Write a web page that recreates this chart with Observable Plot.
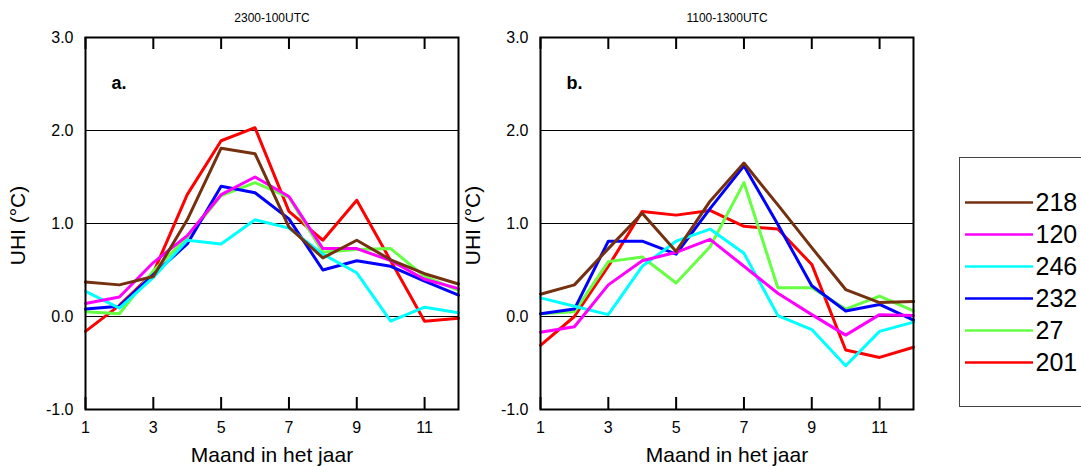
<!DOCTYPE html>
<html><head><meta charset="utf-8">
<script src="https://cdn.jsdelivr.net/npm/d3@7"></script>
<script src="https://cdn.jsdelivr.net/npm/@observablehq/plot@0.6"></script>
<style>
body{margin:0;background:#fff;overflow:hidden;}
#root{position:relative;width:1081px;height:466px;overflow:hidden;background:#fff;font-family:"Liberation Sans",Arial,sans-serif;}
.panel{position:absolute;top:0;}
#legendBox{position:absolute;left:959px;top:157px;width:150px;height:250px;border:1.5px solid #444;box-sizing:border-box;}
</style></head><body><div id="root"><div id="legendBox"></div></div>
<script>
const months = [1,2,3,4,5,6,7,8,9,10,11,12];
const seriesIds = ["218","120","246","232","27","201"];
const seriesColors = ["#74300f","#ff00ff","#00ffff","#0000ff","#66ff44","#ff0000"];
const panelTitles = ["2300-100UTC","1100-1300UTC"];
const panelLetters = ["a.","b."];
const xTickValues = [1,3,5,7,9,11];
const yTickValues = [-1,0,1,2,3];
const gridValues = [0,1,2];
const xLabel = "Maand in het jaar";
const yLabel = "UHI (°C)";

// Panel a (2300-100UTC)
const a218 = [0.37,0.34,0.43,1.04,1.81,1.75,0.96,0.63,0.82,0.61,0.46,0.35];
const a120 = [0.14,0.21,0.58,0.87,1.31,1.50,1.29,0.73,0.73,0.60,0.40,0.30];
const a246 = [0.27,0.09,0.42,0.82,0.78,1.04,0.95,0.67,0.47,-0.05,0.10,0.04];
const a232 = [0.08,0.11,0.45,0.78,1.40,1.33,1.05,0.50,0.60,0.54,0.38,0.23];
const a27  = [0.05,0.03,0.49,0.85,1.30,1.44,1.28,0.69,0.72,0.73,0.43,0.28];
const a201 = [-0.16,0.12,0.47,1.31,1.89,2.03,1.13,0.82,1.25,0.60,-0.05,-0.02];

// Panel b (1100-1300UTC)
const b218 = [0.24,0.34,0.73,1.11,0.70,1.24,1.65,1.20,0.74,0.29,0.15,0.16];
const b120 = [-0.17,-0.11,0.34,0.60,0.69,0.83,0.54,0.25,0.02,-0.20,0.02,0.01];
const b246 = [0.20,0.11,0.02,0.54,0.81,0.94,0.68,0.01,-0.14,-0.53,-0.16,-0.06];
const b232 = [0.03,0.08,0.81,0.81,0.67,1.16,1.62,0.99,0.33,0.06,0.13,-0.04];
const b27  = [0.03,0.05,0.59,0.64,0.36,0.75,1.44,0.31,0.31,0.08,0.22,0.06];
const b201 = [-0.31,0.00,0.54,1.13,1.09,1.14,0.97,0.94,0.56,-0.36,-0.44,-0.33];

const panelA = {"218":a218,"120":a120,"246":a246,"232":a232,"27":a27,"201":a201};
const panelB = {"218":b218,"120":b120,"246":b246,"232":b232,"27":b27,"201":b201};

const FONT = "Liberation Sans, Arial, Helvetica, sans-serif";

function makePanel(series, title, letter) {
  const drawOrder = [...seriesIds].reverse();
  const data = drawOrder.flatMap(id => months.map((m, i) => ({id, month: m, value: series[id][i]})));
  return Plot.plot({
    width: 470, height: 466,
    marginLeft: 85, marginRight: 12, marginTop: 37, marginBottom: 57,
    x: {domain: [1, 12]},
    y: {domain: [-1, 3]},
    color: {domain: seriesIds, range: seriesColors},
    style: {fontFamily: FONT, fontSize: "16px", color: "black", background: "transparent", overflow: "visible"},
    marks: [
      Plot.ruleY(gridValues, {stroke: "black", strokeWidth: 1}),
      Plot.line(data, {x: "month", y: "value", z: "id", stroke: "id", strokeWidth: 3}),
      Plot.tickX(xTickValues, {x: d => d, insetTop: 360, stroke: "black", strokeWidth: 2}),
      Plot.tickX(xTickValues, {x: d => d, insetBottom: 360, stroke: "black", strokeWidth: 2}),
      Plot.frame({stroke: "black", strokeWidth: 2}),
      Plot.axisX(xTickValues, {tickSize: 0, tickPadding: 12, fontSize: 16, label: null}),
      Plot.axisY(yTickValues, {tickSize: 0, tickPadding: 12, fontSize: 16, label: null, tickFormat: d => d.toFixed(1)}),
      Plot.text([title], {frameAnchor: "top", dy: -19, lineAnchor: "middle", fontSize: 12}),
      Plot.text([letter], {frameAnchor: "top-left", dx: 26, dy: 46, lineAnchor: "middle", textAnchor: "start", fontWeight: "bold", fontSize: 18}),
      Plot.text([yLabel], {frameAnchor: "left", dx: -67, dy: 2, rotate: -90, textAnchor: "middle", lineAnchor: "middle", fontSize: 21}),
      Plot.text([xLabel], {frameAnchor: "bottom", dy: 46, textAnchor: "middle", lineAnchor: "middle", fontSize: 21})
    ]
  });
}

function makeLegend() {
  return Plot.plot({
    width: 122, height: 250,
    margin: 0,
    x: {domain: [0, 1], range: [6, 74], axis: null},
    y: {type: "point", domain: seriesIds, range: [26, 223], axis: null},
    color: {domain: seriesIds, range: seriesColors},
    style: {fontFamily: FONT, background: "transparent", overflow: "visible"},
    marks: [
      Plot.ruleY(seriesIds, {y: d => d, x1: 0, x2: 1, stroke: d => d, strokeWidth: 2.5}),
      Plot.text(seriesIds, {y: d => d, x: 1, text: d => d, textAnchor: "start", dx: 2, lineAnchor: "middle", fontSize: 25, fill: "black"})
    ]
  });
}

const root = document.getElementById("root");
const pa = makePanel(panelA, panelTitles[0], panelLetters[0]);
pa.classList.add("panel"); pa.style.left = "0px";
const pb = makePanel(panelB, panelTitles[1], panelLetters[1]);
pb.classList.add("panel"); pb.style.left = "455px";
const lg = makeLegend();
lg.style.position = "absolute"; lg.style.left = "959px"; lg.style.top = "157px";
root.appendChild(pa);
root.appendChild(pb);
root.appendChild(lg);
</script>
</body></html>
